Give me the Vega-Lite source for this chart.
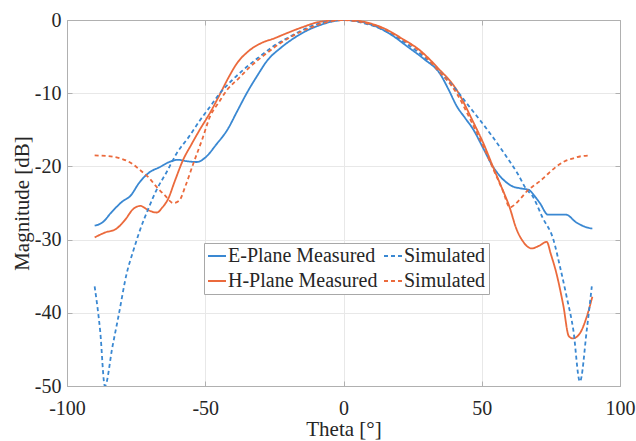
{
  "$schema": "https://vega.github.io/schema/vega-lite/v6.json",
  "width": 553,
  "height": 366,
  "autosize": {"type": "none"},
  "padding": {"left": 67, "top": 20, "right": 16, "bottom": 55},
  "background": "white",
  "config": {
    "view": {"stroke": "#b0b0b0", "strokeWidth": 1},
    "font": "Liberation Serif"
  },
  "data": {"values": [
    {"s":"E-Plane Measured","t":-90,"m":-28.1},{"s":"E-Plane Measured","t":-87,"m":-27.6},{"s":"E-Plane Measured","t":-84,"m":-26.3},{"s":"E-Plane Measured","t":-80,"m":-24.8},{"s":"E-Plane Measured","t":-77,"m":-24.0},{"s":"E-Plane Measured","t":-74,"m":-22.3},{"s":"E-Plane Measured","t":-70.5,"m":-20.9},{"s":"E-Plane Measured","t":-66.5,"m":-20.1},{"s":"E-Plane Measured","t":-63,"m":-19.4},{"s":"E-Plane Measured","t":-60,"m":-19.1},{"s":"E-Plane Measured","t":-56.5,"m":-19.3},{"s":"E-Plane Measured","t":-53,"m":-19.4},{"s":"E-Plane Measured","t":-50,"m":-18.8},{"s":"E-Plane Measured","t":-46,"m":-17.0},{"s":"E-Plane Measured","t":-42,"m":-15.0},{"s":"E-Plane Measured","t":-38.5,"m":-12.5},{"s":"E-Plane Measured","t":-35,"m":-10.0},{"s":"E-Plane Measured","t":-31,"m":-7.5},{"s":"E-Plane Measured","t":-27.5,"m":-5.5},{"s":"E-Plane Measured","t":-23,"m":-3.9},{"s":"E-Plane Measured","t":-18,"m":-2.5},{"s":"E-Plane Measured","t":-13,"m":-1.4},{"s":"E-Plane Measured","t":-8.5,"m":-0.7},{"s":"E-Plane Measured","t":-4,"m":-0.2},{"s":"E-Plane Measured","t":0,"m":0},{"s":"E-Plane Measured","t":4,"m":-0.1},{"s":"E-Plane Measured","t":8,"m":-0.4},{"s":"E-Plane Measured","t":13,"m":-1.1},{"s":"E-Plane Measured","t":18,"m":-2.2},{"s":"E-Plane Measured","t":23,"m":-3.6},{"s":"E-Plane Measured","t":29,"m":-5.3},{"s":"E-Plane Measured","t":35,"m":-7.4},{"s":"E-Plane Measured","t":38,"m":-9.5},{"s":"E-Plane Measured","t":41,"m":-11.8},{"s":"E-Plane Measured","t":44,"m":-13.4},{"s":"E-Plane Measured","t":47,"m":-15.0},{"s":"E-Plane Measured","t":50.5,"m":-17.5},{"s":"E-Plane Measured","t":54,"m":-20},{"s":"E-Plane Measured","t":57,"m":-21.5},{"s":"E-Plane Measured","t":61,"m":-22.7},{"s":"E-Plane Measured","t":64,"m":-23.0},{"s":"E-Plane Measured","t":67,"m":-23.2},{"s":"E-Plane Measured","t":69,"m":-24.0},{"s":"E-Plane Measured","t":71,"m":-25.0},{"s":"E-Plane Measured","t":74,"m":-26.6},{"s":"E-Plane Measured","t":77,"m":-26.6},{"s":"E-Plane Measured","t":80.5,"m":-26.6},{"s":"E-Plane Measured","t":84,"m":-27.6},{"s":"E-Plane Measured","t":87,"m":-28.2},{"s":"E-Plane Measured","t":90,"m":-28.5},
    {"s":"H-Plane Measured","t":-90,"m":-29.7},{"s":"H-Plane Measured","t":-86,"m":-29.0},{"s":"H-Plane Measured","t":-82.5,"m":-28.6},{"s":"H-Plane Measured","t":-79,"m":-27.3},{"s":"H-Plane Measured","t":-76,"m":-25.8},{"s":"H-Plane Measured","t":-73.5,"m":-25.4},{"s":"H-Plane Measured","t":-70.5,"m":-26.0},{"s":"H-Plane Measured","t":-67.5,"m":-26.3},{"s":"H-Plane Measured","t":-65.5,"m":-25.6},{"s":"H-Plane Measured","t":-63.5,"m":-24.5},{"s":"H-Plane Measured","t":-61,"m":-22.0},{"s":"H-Plane Measured","t":-58,"m":-19.1},{"s":"H-Plane Measured","t":-55,"m":-17.0},{"s":"H-Plane Measured","t":-52,"m":-15.0},{"s":"H-Plane Measured","t":-48,"m":-12.5},{"s":"H-Plane Measured","t":-44.5,"m":-10},{"s":"H-Plane Measured","t":-41.5,"m":-7.8},{"s":"H-Plane Measured","t":-38.5,"m":-5.9},{"s":"H-Plane Measured","t":-34.5,"m":-4.3},{"s":"H-Plane Measured","t":-30,"m":-3.2},{"s":"H-Plane Measured","t":-25,"m":-2.5},{"s":"H-Plane Measured","t":-20.5,"m":-1.8},{"s":"H-Plane Measured","t":-15,"m":-1.0},{"s":"H-Plane Measured","t":-8.5,"m":-0.25},{"s":"H-Plane Measured","t":0,"m":0},{"s":"H-Plane Measured","t":5,"m":-0.1},{"s":"H-Plane Measured","t":10,"m":-0.5},{"s":"H-Plane Measured","t":15,"m":-1.2},{"s":"H-Plane Measured","t":21,"m":-2.5},{"s":"H-Plane Measured","t":27.5,"m":-4.1},{"s":"H-Plane Measured","t":34,"m":-6.5},{"s":"H-Plane Measured","t":41,"m":-9.6},{"s":"H-Plane Measured","t":47,"m":-14.0},{"s":"H-Plane Measured","t":51,"m":-17.2},{"s":"H-Plane Measured","t":54,"m":-20},{"s":"H-Plane Measured","t":57,"m":-22.7},{"s":"H-Plane Measured","t":60,"m":-25.5},{"s":"H-Plane Measured","t":62.5,"m":-28.5},{"s":"H-Plane Measured","t":65,"m":-30.3},{"s":"H-Plane Measured","t":68,"m":-31.2},{"s":"H-Plane Measured","t":71,"m":-30.8},{"s":"H-Plane Measured","t":73.5,"m":-30.3},{"s":"H-Plane Measured","t":75,"m":-32},{"s":"H-Plane Measured","t":77,"m":-34.6},{"s":"H-Plane Measured","t":79.5,"m":-39},{"s":"H-Plane Measured","t":81.5,"m":-43.2},{"s":"H-Plane Measured","t":83,"m":-43.5},{"s":"H-Plane Measured","t":85.5,"m":-42.8},{"s":"H-Plane Measured","t":88,"m":-40.5},{"s":"H-Plane Measured","t":90,"m":-37.8},
    {"s":"E-Plane Simulated","t":-90,"m":-36.4},{"s":"E-Plane Simulated","t":-88,"m":-42.5},{"s":"E-Plane Simulated","t":-86.3,"m":-50},{"s":"E-Plane Simulated","t":-83.5,"m":-44.5},{"s":"E-Plane Simulated","t":-81.4,"m":-40.5},{"s":"E-Plane Simulated","t":-78.4,"m":-34.6},{"s":"E-Plane Simulated","t":-76,"m":-31.5},{"s":"E-Plane Simulated","t":-73.6,"m":-28.7},{"s":"E-Plane Simulated","t":-70.5,"m":-25.7},{"s":"E-Plane Simulated","t":-67.6,"m":-23.2},{"s":"E-Plane Simulated","t":-64,"m":-20.8},{"s":"E-Plane Simulated","t":-60.3,"m":-18.2},{"s":"E-Plane Simulated","t":-56,"m":-16.0},{"s":"E-Plane Simulated","t":-51.9,"m":-13.7},{"s":"E-Plane Simulated","t":-48,"m":-11.7},{"s":"E-Plane Simulated","t":-44.7,"m":-10},{"s":"E-Plane Simulated","t":-40.5,"m":-8.3},{"s":"E-Plane Simulated","t":-36.2,"m":-6.8},{"s":"E-Plane Simulated","t":-31,"m":-5.2},{"s":"E-Plane Simulated","t":-25.4,"m":-3.6},{"s":"E-Plane Simulated","t":-19,"m":-2.2},{"s":"E-Plane Simulated","t":-13.3,"m":-1.1},{"s":"E-Plane Simulated","t":-7,"m":-0.3},{"s":"E-Plane Simulated","t":0,"m":0},{"s":"E-Plane Simulated","t":7,"m":-0.4},{"s":"E-Plane Simulated","t":14,"m":-1.3},{"s":"E-Plane Simulated","t":21,"m":-2.8},{"s":"E-Plane Simulated","t":28.9,"m":-5.0},{"s":"E-Plane Simulated","t":35,"m":-7.2},{"s":"E-Plane Simulated","t":40.9,"m":-9.6},{"s":"E-Plane Simulated","t":45,"m":-11.6},{"s":"E-Plane Simulated","t":49.4,"m":-13.7},{"s":"E-Plane Simulated","t":54,"m":-16.0},{"s":"E-Plane Simulated","t":59,"m":-18.7},{"s":"E-Plane Simulated","t":63,"m":-21.0},{"s":"E-Plane Simulated","t":66.3,"m":-23.2},{"s":"E-Plane Simulated","t":68.1,"m":-23.9},{"s":"E-Plane Simulated","t":72,"m":-27.0},{"s":"E-Plane Simulated","t":75.9,"m":-30},{"s":"E-Plane Simulated","t":78.3,"m":-33.7},{"s":"E-Plane Simulated","t":80.7,"m":-37.8},{"s":"E-Plane Simulated","t":83.1,"m":-42.3},{"s":"E-Plane Simulated","t":85.5,"m":-49.4},{"s":"E-Plane Simulated","t":88,"m":-42.3},{"s":"E-Plane Simulated","t":89.8,"m":-36.4},
    {"s":"H-Plane Simulated","t":-90,"m":-18.5},{"s":"H-Plane Simulated","t":-85,"m":-18.6},{"s":"H-Plane Simulated","t":-80.8,"m":-18.9},{"s":"H-Plane Simulated","t":-77,"m":-19.5},{"s":"H-Plane Simulated","t":-73.6,"m":-20.5},{"s":"H-Plane Simulated","t":-70.5,"m":-21.5},{"s":"H-Plane Simulated","t":-67.6,"m":-22.8},{"s":"H-Plane Simulated","t":-64.5,"m":-24.0},{"s":"H-Plane Simulated","t":-61.6,"m":-25.0},{"s":"H-Plane Simulated","t":-59.5,"m":-24.7},{"s":"H-Plane Simulated","t":-57,"m":-22.5},{"s":"H-Plane Simulated","t":-54.3,"m":-19.6},{"s":"H-Plane Simulated","t":-51,"m":-16.2},{"s":"H-Plane Simulated","t":-48.3,"m":-13.2},{"s":"H-Plane Simulated","t":-45,"m":-11.2},{"s":"H-Plane Simulated","t":-42.2,"m":-9.6},{"s":"H-Plane Simulated","t":-38,"m":-8.0},{"s":"H-Plane Simulated","t":-33.8,"m":-6.4},{"s":"H-Plane Simulated","t":-28,"m":-4.6},{"s":"H-Plane Simulated","t":-23,"m":-3.2},{"s":"H-Plane Simulated","t":-17,"m":-1.9},{"s":"H-Plane Simulated","t":-10.9,"m":-0.9},{"s":"H-Plane Simulated","t":-5,"m":-0.2},{"s":"H-Plane Simulated","t":0,"m":0},{"s":"H-Plane Simulated","t":5,"m":-0.2},{"s":"H-Plane Simulated","t":10,"m":-0.6},{"s":"H-Plane Simulated","t":15,"m":-1.3},{"s":"H-Plane Simulated","t":21,"m":-2.6},{"s":"H-Plane Simulated","t":27.7,"m":-4.3},{"s":"H-Plane Simulated","t":34,"m":-6.8},{"s":"H-Plane Simulated","t":40.9,"m":-10},{"s":"H-Plane Simulated","t":46,"m":-13.7},{"s":"H-Plane Simulated","t":50,"m":-16.8},{"s":"H-Plane Simulated","t":54.2,"m":-20.4},{"s":"H-Plane Simulated","t":57.5,"m":-23.2},{"s":"H-Plane Simulated","t":60.2,"m":-25.6},{"s":"H-Plane Simulated","t":62,"m":-25.2},{"s":"H-Plane Simulated","t":64.5,"m":-24.2},{"s":"H-Plane Simulated","t":66.8,"m":-23.2},{"s":"H-Plane Simulated","t":69,"m":-22.6},{"s":"H-Plane Simulated","t":71.1,"m":-22.0},{"s":"H-Plane Simulated","t":74,"m":-21.0},{"s":"H-Plane Simulated","t":77.1,"m":-20.0},{"s":"H-Plane Simulated","t":80,"m":-19.3},{"s":"H-Plane Simulated","t":83.1,"m":-18.9},{"s":"H-Plane Simulated","t":86,"m":-18.6},{"s":"H-Plane Simulated","t":89.2,"m":-18.5}
  ]},
  "layer": [
    {
      "mark": {"type": "line", "interpolate": "monotone", "strokeWidth": 1.8, "clip": true},
      "encoding": {
        "x": {
          "field": "t", "type": "quantitative",
          "scale": {"domain": [-100, 100], "nice": false, "zero": false},
          "axis": {
            "title": "Theta [°]", "values": [-100, -50, 0, 50, 100],
            "labelExpr": "'' + datum.value",
            "labelFont": "Liberation Serif", "labelFontSize": 20, "labelColor": "#262626",
            "titleFont": "Liberation Serif", "titleFontSize": 21, "titleFontWeight": "normal", "titleColor": "#262626",
            "titlePadding": 0, "labelPadding": 17,
            "domainColor": "#b0b0b0", "tickColor": "#b0b0b0", "tickSize": -5,
            "gridColor": "#e8e8e8", "labelFlush": false
          }
        },
        "y": {
          "field": "m", "type": "quantitative",
          "scale": {"domain": [-50, 0], "nice": false, "zero": false},
          "axis": {
            "title": "Magnitude [dB]", "values": [-50, -40, -30, -20, -10, 0],
            "labelExpr": "'' + datum.value",
            "labelFont": "Liberation Serif", "labelFontSize": 20, "labelColor": "#262626",
            "titleFont": "Liberation Serif", "titleFontSize": 21, "titleFontWeight": "normal", "titleColor": "#262626",
            "titlePadding": 2, "labelPadding": 11,
            "domainColor": "#b0b0b0", "tickColor": "#b0b0b0", "tickSize": -5,
            "gridColor": "#e8e8e8", "labelFlush": false
          }
        },
        "color": {
          "field": "s", "type": "nominal",
          "scale": {
            "domain": ["E-Plane Measured", "H-Plane Measured", "E-Plane Simulated", "H-Plane Simulated"],
            "range": ["#3a88d2", "#eb6a3c", "#3a88d2", "#eb6a3c"]
          },
          "legend": {
            "title": null, "orient": "none", "legendX": 137, "legendY": 223,
            "columns": 2, "columnPadding": 2, "rowPadding": 5,
            "symbolType": "stroke", "symbolSize": 324, "symbolStrokeWidth": 1.8,
            "labelFont": "Liberation Serif", "labelFontSize": 20, "labelColor": "#262626",
            "labelOffset": 1,
            "fillColor": "white", "strokeColor": "#a8a8a8", "padding": 3,
            "labelExpr": "indexof(datum.label, 'Simulated') >= 0 ? 'Simulated' : datum.label"
          }
        },
        "strokeDash": {
          "field": "s", "type": "nominal",
          "scale": {
            "domain": ["E-Plane Measured", "H-Plane Measured", "E-Plane Simulated", "H-Plane Simulated"],
            "range": [[1, 0], [1, 0], [4, 3], [4, 3]]
          },
          "legend": null
        }
      }
    },
    {
      "mark": {"type": "point", "opacity": 0},
      "encoding": {
        "x": {
          "field": "t", "type": "quantitative",
          "axis": {
            "orient": "top", "title": null, "labels": false, "grid": false,
            "values": [-100, -50, 0, 50, 100],
            "domainColor": "#b0b0b0", "tickColor": "#b0b0b0", "tickSize": -5
          }
        },
        "y": {
          "field": "m", "type": "quantitative",
          "axis": {
            "orient": "right", "title": null, "labels": false, "grid": false,
            "values": [-50, -40, -30, -20, -10, 0],
            "domainColor": "#b0b0b0", "tickColor": "#b0b0b0", "tickSize": -5
          }
        }
      }
    }
  ],
  "resolve": {"axis": {"x": "independent", "y": "independent"}}
}
